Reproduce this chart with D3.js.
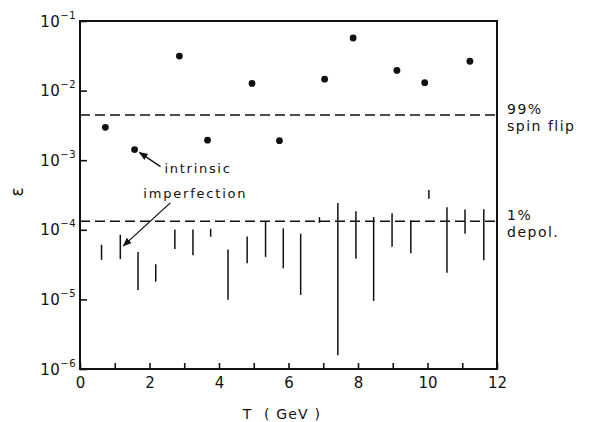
<!DOCTYPE html>
<html><head><meta charset="utf-8">
<script src="https://cdn.jsdelivr.net/npm/d3@7"></script>
<style>
html,body{margin:0;padding:0;background:#fff;}
svg text{font-family:"DejaVu Sans",sans-serif;fill:#111;}
</style></head>
<body><svg id="c" width="592" height="422"></svg>
<script>
// intrinsic resonances (dots)
const dotT   = [0.73, 1.57, 2.86, 3.67, 4.95, 5.74, 7.04, 7.86, 9.12, 9.92, 11.22];
const dotEps = [2.97e-3, 1.42e-3, 3.13e-2, 1.94e-3, 1.27e-2, 1.91e-3, 1.46e-2, 5.7e-2, 1.95e-2, 1.3e-2, 2.64e-2];
// imperfection resonances (ranges)
const barT  = [0.62, 1.16, 1.67, 2.18, 2.73, 3.25, 3.76, 4.26, 4.81, 5.34, 5.85, 6.35, 6.89, 7.42, 7.94, 8.45, 8.98, 9.52, 10.04, 10.56, 11.08, 11.62];
const barHi = [6.1e-5, 8.5e-5, 4.8e-5, 3.2e-5, 1.01e-4, 1.01e-4, 1.03e-4, 5.2e-5, 8.0e-5, 1.34e-4, 1.05e-4, 8.8e-5, 1.52e-4, 2.42e-4, 1.85e-4, 1.53e-4, 1.73e-4, 1.36e-4, 3.72e-4, 2.11e-4, 1.95e-4, 1.97e-4];
const barLo = [3.7e-5, 3.8e-5, 1.37e-5, 1.8e-5, 5.3e-5, 4.3e-5, 7.96e-5, 9.9e-6, 3.3e-5, 4.07e-5, 2.8e-5, 1.16e-5, 1.26e-4, 1.57e-6, 3.85e-5, 9.5e-6, 5.7e-5, 4.6e-5, 2.79e-4, 2.42e-5, 8.8e-5, 3.64e-5];
// reference levels
const refLevels = [4.47e-3, 1.33e-4];
const refLabels = [["99%", "spin flip"], ["1%", "depol."]];
const xTicks = [0,1,2,3,4,5,6,7,8,9,10,11,12];
const yTicks = [1e-1, 1e-2, 1e-3, 1e-4, 1e-5, 1e-6];
const yExp   = ["−1", "−2", "−3", "−4", "−5", "−6"];

const L = 80, R = 497, T = 21, B = 369;
const svg = d3.select("#c");
const x = d3.scaleLinear().domain([0, 12]).range([L, R]);
const y = d3.scaleLog().domain([1e-6, 1e-1]).range([B, T]);

// x axis
const gx = svg.append("g").attr("transform", `translate(0,${B})`)
  .call(d3.axisBottom(x).tickValues(xTicks).tickSizeInner(-6).tickSizeOuter(0).tickPadding(8)
    .tickFormat(d => d % 2 === 0 ? d : ""));
gx.select(".domain").remove();
gx.selectAll("line").attr("stroke", "#111").attr("stroke-width", 1.6);
gx.selectAll("text").attr("font-size", 15).attr("fill", "#111");

// y axis
const gy = svg.append("g").attr("transform", `translate(${L},0)`)
  .call(d3.axisLeft(y).tickValues(yTicks).tickSizeInner(-7).tickSizeOuter(0).tickPadding(5).tickFormat(""));
gy.select(".domain").remove();
gy.selectAll("line").attr("stroke", "#111").attr("stroke-width", 1.6);
gy.selectAll(".tick").each(function(d, i) {
  const t = d3.select(this).select("text").attr("x", -4).attr("dy", null).attr("y", 5)
    .attr("text-anchor", "end").attr("font-size", 15).attr("letter-spacing", 0.5);
  t.append("tspan").text("10");
  t.append("tspan").attr("dy", -8).attr("font-size", 10).text(yExp[i]);
});

// frame
svg.append("rect").attr("x", L).attr("y", T).attr("width", R - L).attr("height", B - T)
  .attr("fill", "none").attr("stroke", "#111").attr("stroke-width", 2);

// reference dashed lines
svg.selectAll(".ref").data(refLevels).join("line")
  .attr("x1", L).attr("x2", R).attr("y1", d => y(d)).attr("y2", d => y(d))
  .attr("stroke", "#111").attr("stroke-width", 1.4).attr("stroke-dasharray", "10,5");

// imperfection bars
svg.selectAll(".bar").data(barT).join("line")
  .attr("x1", d => x(d)).attr("x2", d => x(d))
  .attr("y1", (d, i) => y(barHi[i])).attr("y2", (d, i) => y(barLo[i]))
  .attr("stroke", "#111").attr("stroke-width", 1.5);

// intrinsic dots
svg.selectAll(".dot").data(dotT).join("circle")
  .attr("cx", d => x(d)).attr("cy", (d, i) => y(dotEps[i])).attr("r", 3.4).attr("fill", "#111");

// right labels
refLevels.forEach((lv, i) => {
  const yy = y(lv);
  svg.append("text").attr("x", R + 10).attr("y", yy - 1).attr("font-size", 14).attr("letter-spacing", 1.5).text(refLabels[i][0]);
  svg.append("text").attr("x", R + 10).attr("y", yy + 16).attr("font-size", 14).attr("letter-spacing", 1.5).text(refLabels[i][1]);
});

// arrow marker
svg.append("defs").append("marker").attr("id", "ah").attr("viewBox", "0 0 10 10")
  .attr("refX", 9).attr("refY", 5).attr("markerWidth", 9).attr("markerHeight", 9).attr("orient", "auto")
  .attr("markerUnits", "userSpaceOnUse")
  .append("path").attr("d", "M0,1 L10,5 L0,9 Z").attr("fill", "#111");

// "intrinsic" annotation, anchored to second dot
const dx2 = x(dotT[1]), dy2 = y(dotEps[1]);
svg.append("line").attr("x1", dx2 + 26).attr("y1", dy2 + 17).attr("x2", dx2 + 5).attr("y2", dy2 + 3)
  .attr("stroke", "#111").attr("stroke-width", 1.3).attr("marker-end", "url(#ah)");
svg.append("text").attr("x", dx2 + 30).attr("y", dy2 + 23).attr("font-size", 13).attr("letter-spacing", 1.7).text("intrinsic");

// "imperfection" annotation, anchored to second bar
const bx = x(barT[1]), by = (y(barHi[1]) + y(barLo[1])) / 2;
svg.append("line").attr("x1", bx + 50).attr("y1", by - 44).attr("x2", bx + 3).attr("y2", by - 1)
  .attr("stroke", "#111").attr("stroke-width", 1.3).attr("marker-end", "url(#ah)");
svg.append("text").attr("x", bx + 23).attr("y", by - 49).attr("font-size", 13).attr("letter-spacing", 1.8).text("imperfection");

// axis titles
svg.append("text").attr("x", 282).attr("y", 419).attr("text-anchor", "middle").attr("font-size", 14)
  .attr("letter-spacing", 1.2).style("white-space", "pre").text("T  ( GeV )");
svg.append("text").attr("transform", "translate(23,192) rotate(-90)").attr("text-anchor", "middle")
  .attr("font-size", 17).text("ε");
</script></body></html>
